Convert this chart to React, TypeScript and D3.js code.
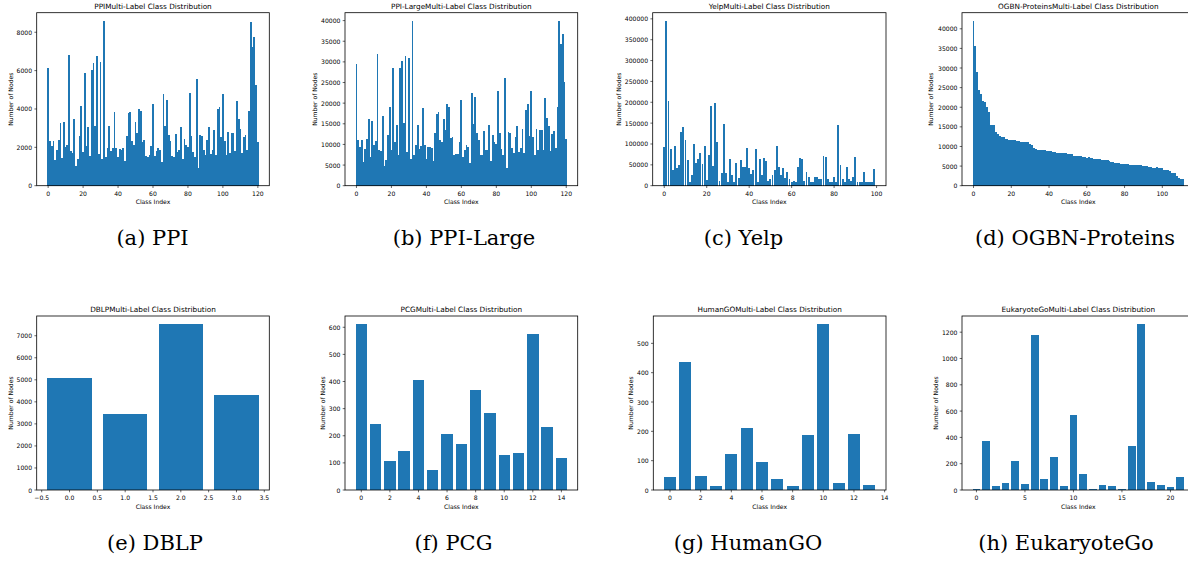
import React from "react";
import * as d3 from "d3";

// ---------------- DATA ----------------
const ppiValues = [6160, 2330, 2070, 2330, 1340, 1860, 2380, 3290, 1430, 3320,
  2020, 2120, 6820, 1810, 1700, 3480, 1030, 1390, 2590, 4170,
  1760, 5880, 2070, 3060, 1550, 6030, 6400, 3110, 6760, 1650,
  6450, 1390, 8590, 1500, 1970, 3110, 1810, 1970, 3840, 1970,
  1500, 1910, 1860, 1970, 1290, 2590, 3790, 3840, 2330, 2120,
  3320, 2750, 4000, 3900, 2280, 2380, 1550, 1500, 1600, 2070,
  4260, 1550, 1810, 1970, 1860, 1230, 4780, 3110, 4470, 2640,
  2330, 1550, 1500, 2700, 1760, 1860, 3060, 1390, 2430, 2120,
  2020, 4830, 2590, 1760, 1500, 5560, 920, 2640, 2590, 1860,
  1600, 2380, 3060, 1650, 1860, 2900, 1600, 4000, 4100, 2540,
  4780, 2330, 1600, 2800, 1700, 2750, 2750, 1810, 4420, 3480,
  2960, 1700, 2540, 2640, 1860, 3900, 8540, 7230, 7760, 5250,
  2280];

const ppiLargeValues = [29490, 11070, 9370, 11070, 5740, 8890, 11310, 16160, 6950, 15680,
  9860, 10830, 31920, 8650, 8400, 16890, 4770, 6220, 12280, 19070,
  8650, 28520, 10580, 14710, 7430, 28520, 30220, 15190, 31430, 8160,
  30950, 6460, 39920, 7430, 9860, 14710, 8890, 9620, 18830, 9860,
  6460, 9370, 9370, 9130, 5980, 12770, 17370, 17860, 11070, 10580,
  16160, 13490, 19800, 19070, 11550, 11800, 7430, 7680, 7680, 10580,
  20770, 6950, 8650, 9860, 9370, 5490, 22460, 14950, 21490, 12770,
  11070, 7430, 7430, 13250, 8650, 8650, 14710, 5980, 12280, 10580,
  10100, 22950, 12770, 8890, 7430, 26100, 4280, 13010, 12770, 9130,
  7920, 11800, 14460, 8160, 9130, 13740, 7920, 18340, 19800, 12040,
  22950, 11800, 7430, 13740, 8650, 13490, 13490, 8650, 21250, 16400,
  14460, 8400, 12520, 13250, 9130, 19070, 39920, 34340, 36760, 25130,
  11310];

const yelpValues = [93000, 395000, 204000, 88000, 38000, 95000, 42000, 49000, 129000, 141000,
  110000, 61000, 8000, 25000, 100000, 54000, 64000, 78000, 52000, 95000,
  13000, 73000, 190000, 47000, 199000, 105000, 12000, 30000, 148000, 30000,
  10000, 64000, 25000, 10000, 54000, 18000, 61000, 44000, 44000, 90000,
  42000, 27000, 37000, 88000, 10000, 64000, 25000, 66000, 59000, 12000,
  15000, 25000, 37000, 95000, 44000, 25000, 42000, 18000, 34000, 15000,
  10000, 12000, 8000, 44000, 66000, 63000, 12000, 32000, 22000, 8000,
  8000, 22000, 22000, 17000, 17000, 71000, 69000, 17000, 10000, 10000,
  20000, 8000, 146000, 49000, 15000, 10000, 44000, 15000, 12000, 20000,
  69000, 10000, 8000, 8000, 32000, 8000, 8000, 8000, 10000, 40000];

const ogbnValues = [42000, 35600, 29000, 24400, 23400, 21600, 21300, 20100, 18800, 15500,
  15500, 15500, 13700, 13200, 12700, 12400, 12400, 11900, 11900, 11700,
  11700, 11700, 11700, 11400, 11400, 11200, 11200, 11200, 11200, 11200,
  10600, 10400, 9600, 9400, 9100, 9100, 9100, 9100, 9100, 8900,
  8900, 8900, 8600, 8600, 8300, 8300, 8300, 8300, 8300, 8300,
  8100, 8100, 8100, 7600, 7600, 7600, 7600, 7600, 7300, 7300,
  7100, 7300, 7100, 7100, 6800, 6800, 6800, 6800, 6600, 6600,
  6600, 6600, 6300, 6000, 6000, 5800, 5800, 5800, 5500, 5500,
  5500, 5500, 5500, 5300, 5300, 5300, 5300, 5300, 5300, 5300,
  5000, 5000, 5000, 4800, 4800, 4500, 4500, 4800, 4500, 4500,
  4500, 4000, 4000, 4000, 3700, 3200, 3200, 3200, 2500, 2000,
  1800, 1600];

const dblpValues = [5080, 3440, 7520, 4310];
const pcgValues = [611, 244, 107, 144, 404, 74, 207, 170, 370, 285, 129, 137, 574, 233, 118];
const humanGoValues = [44, 435, 48, 14, 123, 212, 96, 38, 14, 188, 565, 24, 192, 17];
const eukaryoteGoValues = [5, 374, 30, 53, 221, 45, 1175, 84, 252, 30, 573, 122, 6, 38, 30, 5, 336, 1260, 61, 38, 22, 99];

const ticks0to120 = [0, 20, 40, 60, 80, 100, 120];
const ticks0to100 = [0, 20, 40, 60, 80, 100];
const ppiYTicks = [0, 2000, 4000, 6000, 8000];
const ppiLargeYTicks = [0, 5000, 10000, 15000, 20000, 25000, 30000, 35000, 40000];
const yelpYTicks = [0, 50000, 100000, 150000, 200000, 250000, 300000, 350000, 400000];
const ogbnYTicks = [0, 5000, 10000, 15000, 20000, 25000, 30000, 35000, 40000];
const dblpXTicks = [-0.5, 0, 0.5, 1, 1.5, 2, 2.5, 3, 3.5];
const dblpXTickLabels = ["−0.5", "0.0", "0.5", "1.0", "1.5", "2.0", "2.5", "3.0", "3.5"];
const dblpYTicks = [0, 1000, 2000, 3000, 4000, 5000, 6000, 7000];
const evenTo14 = [0, 2, 4, 6, 8, 10, 12, 14];
const pcgYTicks = [0, 100, 200, 300, 400, 500, 600];
const humanYTicks = [0, 100, 200, 300, 400, 500];
const eukXTicks = [0, 5, 10, 15, 20];
const eukYTicks = [0, 200, 400, 600, 800, 1000, 1200];

const titles = [
  "PPIMulti-Label Class Distribution",
  "PPI-LargeMulti-Label Class Distribution",
  "YelpMulti-Label Class Distribution",
  "OGBN-ProteinsMulti-Label Class Distribution",
  "DBLPMulti-Label Class Distribution",
  "PCGMulti-Label Class Distribution",
  "HumanGOMulti-Label Class Distribution",
  "EukaryoteGoMulti-Label Class Distribution",
];
const captions = ["(a) PPI", "(b) PPI-Large", "(c) Yelp", "(d) OGBN-Proteins", "(e) DBLP", "(f) PCG", "(g) HumanGO", "(h) EukaryoteGo"];
const xLabel = "Class Index";
const yLabel = "Number of Nodes";

// ---------------- SPECS ----------------
const specs = [
  { values: ppiValues, xTicks: ticks0to120, yTicks: ppiYTicks, barWidth: 1 },
  { values: ppiLargeValues, xTicks: ticks0to120, yTicks: ppiLargeYTicks, barWidth: 1 },
  { values: yelpValues, xTicks: ticks0to100, yTicks: yelpYTicks, barWidth: 0.9 },
  { values: ogbnValues, xTicks: ticks0to100, yTicks: ogbnYTicks, barWidth: 1 },
  { values: dblpValues, xTicks: dblpXTicks, xTickLabels: dblpXTickLabels, yTicks: dblpYTicks, barWidth: 0.8 },
  { values: pcgValues, xTicks: evenTo14, yTicks: pcgYTicks, barWidth: 0.8 },
  { values: humanGoValues, xTicks: evenTo14, yTicks: humanYTicks, barWidth: 0.8 },
  { values: eukaryoteGoValues, xTicks: eukXTicks, yTicks: eukYTicks, barWidth: 0.8 },
];

const layout = [
  { left: 36.7, top: 12.7, width: 232.6, height: 173, ylabX: 10, capX: 152.5, capY: 245 },
  { left: 345, top: 12.7, width: 232.7, height: 173, ylabX: 314.3, capX: 464, capY: 245 },
  { left: 652.7, top: 12.7, width: 233.3, height: 173, ylabX: 618.3, capX: 743.5, capY: 245 },
  { left: 962, top: 12.7, width: 232.6, height: 173, ylabX: 930.7, capX: 1075, capY: 245 },
  { left: 36.7, top: 316, width: 232.6, height: 174, ylabX: 10, capX: 155, capY: 550 },
  { left: 345, top: 316, width: 232.7, height: 174, ylabX: 322.3, capX: 453.5, capY: 550 },
  { left: 653.3, top: 316, width: 232.7, height: 174, ylabX: 630.7, capX: 748, capY: 550 },
  { left: 962, top: 316, width: 232.6, height: 174, ylabX: 935.3, capX: 1066, capY: 550 },
];

const BAR = "#1f77b4";
const SANS = "DejaVu Sans, sans-serif";
const TICK_FS = 6.1;
const TITLE_FS = 7.3;

function Panel({ spec, box, title, caption }: any) {
  const n = spec.values.length;
  const lo = -spec.barWidth / 2;
  const hi = n - 1 + spec.barWidth / 2;
  const m = (hi - lo) * 0.05;
  const x = d3.scaleLinear().domain([lo - m, hi + m]).range([box.left, box.left + box.width]);
  const yMax = (d3.max(spec.values) as number) * 1.05;
  const bottom = box.top + box.height;
  const y = d3.scaleLinear().domain([0, yMax]).range([bottom, box.top]);
  const cx = box.left + box.width / 2;
  const fmt = (v: number) => String(v);
  return (
    <g>
      <g shapeRendering="crispEdges">
        {spec.values.map((v: number, i: number) => (
          <rect key={i} x={x(i - spec.barWidth / 2)} width={x(i + spec.barWidth / 2) - x(i - spec.barWidth / 2)}
            y={y(v)} height={y(0) - y(v)} fill={BAR} />
        ))}
      </g>
      <rect x={box.left} y={box.top} width={box.width} height={box.height} fill="none" stroke="#000" strokeWidth={0.8} />
      {spec.xTicks.map((t: number, i: number) => (
        <g key={"xt" + i}>
          <line x1={x(t)} x2={x(t)} y1={bottom} y2={bottom + 2.3} stroke="#000" strokeWidth={0.6} />
          <text x={x(t)} y={bottom + 7.3} fontSize={TICK_FS} fontFamily={SANS} textAnchor="middle" dominantBaseline="central" fill="#000">
            {spec.xTickLabels ? spec.xTickLabels[i] : fmt(t)}
          </text>
        </g>
      ))}
      {spec.yTicks.map((t: number, i: number) => (
        <g key={"yt" + i}>
          <line x1={box.left - 2.3} x2={box.left} y1={y(t)} y2={y(t)} stroke="#000" strokeWidth={0.6} />
          <text x={box.left - 4.6} y={y(t)} fontSize={TICK_FS} fontFamily={SANS} textAnchor="end" dominantBaseline="central" fill="#000">
            {fmt(t)}
          </text>
        </g>
      ))}
      <text x={cx} y={box.top - 6.5} fontSize={TITLE_FS} fontFamily={SANS} textAnchor="middle" dominantBaseline="central" fill="#000">{title}</text>
      <text x={cx} y={bottom + 16} fontSize={TICK_FS} fontFamily={SANS} textAnchor="middle" dominantBaseline="central" fill="#000">{xLabel}</text>
      <text transform={`translate(${box.ylabX},${box.top + box.height / 2}) rotate(-90)`} fontSize={TICK_FS} fontFamily={SANS}
        textAnchor="middle" dominantBaseline="central" fill="#000">{yLabel}</text>
      <text x={box.capX} y={box.capY} fontSize={21} fontFamily="DejaVu Serif, serif" textAnchor="middle" fill="#000">{caption}</text>
    </g>
  );
}

export default function App() {
  return (
    <svg width={1188} height={563} style={{ position: "absolute", left: 0, top: 0, background: "#fff" }}>
      <rect x={0} y={0} width={1188} height={563} fill="#fff" />
      {specs.map((s, i) => (
        <Panel key={i} spec={s} box={layout[i]} title={titles[i]} caption={captions[i]} />
      ))}
    </svg>
  );
}
